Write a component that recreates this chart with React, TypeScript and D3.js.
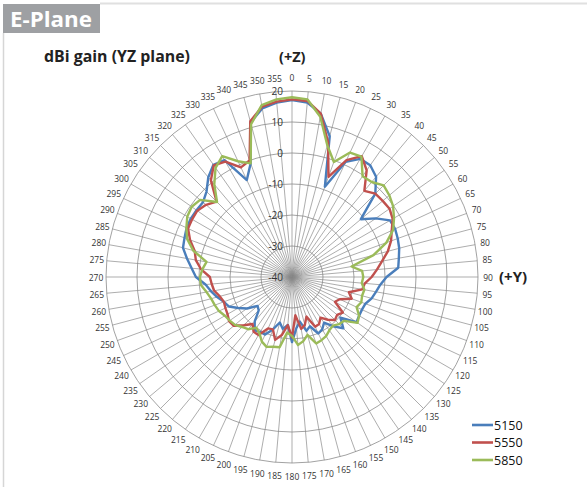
import React from "react";
import * as d3 from "d3";

// ---- data ----
const angles: number[] = d3.range(0, 360, 5);
const angleLabels: string[] = angles.map((a) => String(a));
const ringValues: number[] = [-40, -30, -20, -10, 0, 10, 20];
const seriesNames: string[] = ["5150", "5550", "5850"];

const s5150: number[] = [
  17.1, 16.5, 13.5, 7, -9, 1, 4, 4, 2.2, -2, -11, -7,
  -3.5, -3.3, -3.7, -4.2, -5, -5.6, -9.5, -11.4, -12.5, -13.4, -14.8, -15.1,
  -15, -14.6, -19.6, -16.6, -19.2, -22, -20.5, -19.9, -23.1, -22, -25.4, -23.5,
  -19, -24.5, -23, -24.8, -22, -19.5, -19.5, -19, -21.3, -24.8, -25.5, -22.3,
  -20, -17.5, -16.6, -15, -13.5, -12, -9, -7.5, -5.6, -3.6, -3.1, -2.5,
  -2.3, -2.4, -2.5, -1, 2, 4.2, 3.5, -5.5, -1, 11.6, 15.2, 16.5,
];
const s5550: number[] = [
  17.3, 17, 13.5, 5, -5.6, 1.6, 5, 2, -3.7, -2, -1.8, -1.6,
  -2.5, -4.5, -6, -8, -10.5, -12.5, -14.3, -16.4, -17, -21, -19.5, -23,
  -24, -20, -21, -20.4, -22, -24, -22.5, -22.3, -26.4, -24, -23, -27.6,
  -20.5, -24.4, -21, -19, -22, -21.7, -18.4, -18.4, -20.2, -18, -15.5, -15.2,
  -16, -16.3, -16.6, -15.9, -14.5, -14, -13.5, -10.5, -8.5, -7.5, -5, -3,
  -2.8, -2.7, -3.8, -5.6, 0.7, 4, 3, -1, 0, 12, 15.8, 16.8,
];
const s5850: number[] = [
  18, 17.5, 12.5, 4, -0.5, 4.3, 4.8, -0.3, 0, 1.8, 1, -0.2,
  -2, -4, -7.6, -12.8, -20.5, -17.3, -17, -17.4, -16.3, -16.6, -16.2, -17,
  -15, -14.2, -18, -18.5, -19.5, -19, -18, -17.5, -17.2, -20.7, -19, -18,
  -21, -22, -17, -16.7, -16, -17, -19, -20, -18, -17.2, -16, -15.5,
  -15, -14, -13.5, -13, -12, -10.5, -10.3, -11, -12, -7, -4, -2.4,
  -1, -0.5, -1.3, -5.8, -1, 3, 5, 1.2, -1, 11, 16.3, 17.5,
];
const seriesValues: number[][] = [s5150, s5550, s5850];
const seriesColors: string[] = ["#4A7EBB", "#C0504D", "#9BBB59"];

const W = 587;
const H = 487;
const cx = 292;
const cy = 277;
const R = 186;
const FONT = "'Open Sans', 'Liberation Sans', sans-serif";

export default function App() {
  const r = d3.scaleLinear().domain([-40, 20]).range([0, R]);
  const a = d3
    .scaleLinear()
    .domain([0, 360])
    .range([0, 2 * Math.PI]);

  const line = d3
    .lineRadial<number>()
    .angle((_, i) => a(angles[i]))
    .radius((v) => r(v))
    .curve(d3.curveLinearClosed);

  const pt = (deg: number, rad: number) => {
    const t = a(deg);
    return [cx + rad * Math.sin(t), cy - rad * Math.cos(t)];
  };

  return (
    <div style={{ position: "fixed", left: 0, top: 0 }}>
      <svg width={W} height={H} style={{ display: "block", background: "#fff" }}>
        {/* frame */}
        <line x1={100} y1={3.5} x2={W} y2={3.5} stroke="#e0e0e0" strokeWidth={2} />
        <line x1={3.5} y1={33} x2={3.5} y2={H} stroke="#d6d6d6" strokeWidth={1.5} />
        <rect x={3} y={4} width={97} height={29} fill="#9EA0A3" />
        <text
          x={10}
          y={27}
          fill="#fff"
          fontFamily={FONT}
          fontWeight="bold"
          fontSize={22}
          textLength={82}
          lengthAdjust="spacingAndGlyphs"
        >
          E-Plane
        </text>

        <text
          x={44}
          y={62}
          fill="#222"
          fontFamily={FONT}
          fontWeight="bold"
          fontSize={15.5}
          textLength={146}
          lengthAdjust="spacingAndGlyphs"
        >
          dBi gain (YZ plane)
        </text>
        <text x={279} y={62} fill="#222" fontFamily={FONT} fontWeight="bold" fontSize={14.5}>
          (+Z)
        </text>
        <text x={499} y={282} fill="#222" fontFamily={FONT} fontWeight="bold" fontSize={15}>
          (+Y)
        </text>

        {/* grid: spokes */}
        <g stroke="#8a8a8a" strokeWidth={0.7}>
          {angles.map((deg) => {
            const [x, y] = pt(deg, R);
            return <line key={"s" + deg} x1={cx} y1={cy} x2={x} y2={y} />;
          })}
        </g>
        {/* grid: rings */}
        <g fill="none" stroke="#8a8a8a" strokeWidth={0.8}>
          {ringValues.slice(1).map((v) => (
            <circle key={"c" + v} cx={cx} cy={cy} r={r(v)} />
          ))}
        </g>

        {/* angle labels */}
        <g fontFamily={FONT} fontSize={8.5} fill="#333">
          {angles.map((deg, i) => {
            const c = Math.cos(a(deg));
            const d = R + 10 + 3.5 * c * c;
            const [x, y] = pt(deg, d);
            return (
              <text key={"al" + deg} x={x} y={y} textAnchor="middle" dominantBaseline="central">
                {angleLabels[i]}
              </text>
            );
          })}
        </g>

        {/* series */}
        <g fill="none" strokeWidth={2.4} strokeLinejoin="round">
          {seriesValues.map((vals, i) => (
            <path
              key={seriesNames[i]}
              d={line(vals) || ""}
              transform={`translate(${cx},${cy})`}
              stroke={seriesColors[i]}
            />
          ))}
        </g>

        {/* ring labels */}
        <g fontFamily={FONT} fontSize={10} fill="#333">
          {ringValues.map((v) => (
            <text key={"rl" + v} x={cx - 9} y={cy - r(v)} textAnchor="end" dominantBaseline="central">
              {v}
            </text>
          ))}
        </g>

        {/* legend */}
        <g fontFamily={FONT} fontSize={12.5} fill="#111">
          {seriesNames.map((name, i) => {
            const y = 425 + i * 17.5;
            return (
              <g key={"lg" + name}>
                <line x1={472} y1={y} x2={493} y2={y} stroke={seriesColors[i]} strokeWidth={2.6} />
                <text x={494} y={y} dominantBaseline="central">
                  {name}
                </text>
              </g>
            );
          })}
        </g>
      </svg>
    </div>
  );
}
